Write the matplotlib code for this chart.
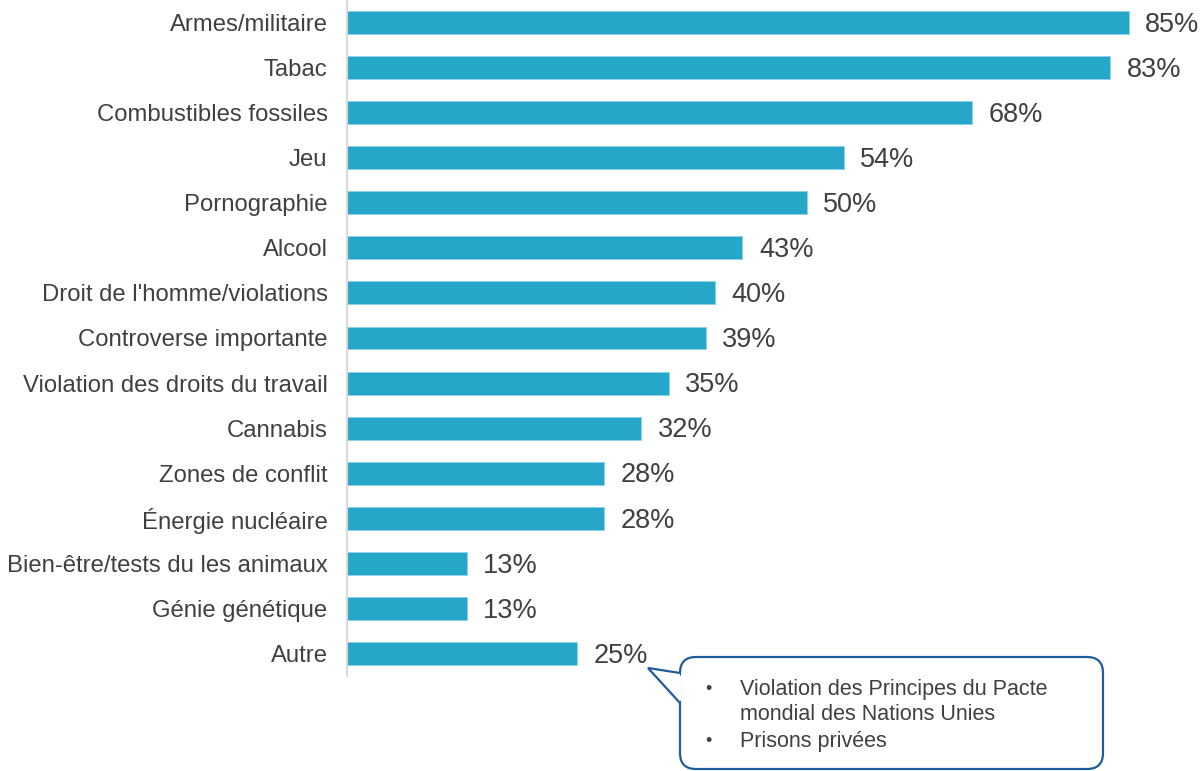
import matplotlib
matplotlib.use("Agg")
import matplotlib.pyplot as plt
import matplotlib.transforms as mtransforms
from matplotlib.patches import FancyBboxPatch, Polygon

plt.rcParams['font.family'] = ['Liberation Sans', 'DejaVu Sans']

categories = ["Armes/militaire", "Tabac", "Combustibles fossiles", "Jeu", "Pornographie",
              "Alcool", "Droit de l'homme/violations", "Controverse importante",
              "Violation des droits du travail", "Cannabis", "Zones de conflit",
              "Énergie nucléaire", "Bien-être/tests du les animaux", "Génie génétique", "Autre"]
values = [85, 83, 68, 54, 50, 43, 40, 39, 35, 32, 28, 28, 13, 13, 25]
callout_lines = ["Violation des Principes du Pacte", "mondial des Nations Unies", "Prisons privées"]

bar_color = "#26A7C9"
text_color = "#404040"

fig = plt.figure(figsize=(12.02, 7.71), dpi=100)
ax = fig.add_axes([347 / 1202, (771 - 676) / 771, 846 / 1202, 676 / 771])

y = list(range(len(categories)))
ax.barh(y, values, height=0.51, color=bar_color, edgecolor="#8fd3e6", linewidth=0.6)
for yi, v in zip(y, values):
    ax.text(v + 1.8, yi + 0.05, f"{v}%", va="center", ha="left", fontsize=19.5, color=text_color)

ax.set_yticks(y)
ax.set_yticklabels(categories, fontsize=17.2, color=text_color)
ax.set_ylim(len(categories) - 0.5, -0.5)
ax.set_xlim(0, 92)
ax.set_xticks([])
ax.tick_params(axis="y", length=0, pad=14)
for s in ["top", "right", "bottom"]:
    ax.spines[s].set_visible(False)
ax.spines["left"].set_color("#d9d9d9")
ax.spines["left"].set_linewidth(1.5)

# callout in pixel coords (top-down)
px = mtransforms.Affine2D().scale(1 / 1202, -1 / 771).translate(0, 1) + fig.transFigure
edge = "#1F5C99"
box = FancyBboxPatch((680, 657), 423, 112, boxstyle="round,pad=0,rounding_size=16",
                     transform=px, facecolor="white", edgecolor=edge, linewidth=1.6,
                     clip_on=False, zorder=5)
fig.patches.append(box)
tri = Polygon([(680, 673), (648, 668), (680, 703)], closed=False, transform=px,
              facecolor="white", edgecolor=edge, linewidth=1.6, clip_on=False, zorder=6)
fig.patches.append(tri)
cover = Polygon([(681.5, 674), (681.5, 702), (672, 690)], closed=True, transform=px,
                facecolor="white", edgecolor="none", clip_on=False, zorder=7)
fig.patches.append(cover)

for yy, txt, bullet in [(690, callout_lines[0], True), (714, callout_lines[1], False),
                        (741, callout_lines[2], True)]:
    if bullet:
        fig.text(705 / 1202, 1 - yy / 771, "•", transform=fig.transFigure, fontsize=13,
                 color=text_color, va="center", ha="left", zorder=8)
    fig.text(740 / 1202, 1 - yy / 771, txt, transform=fig.transFigure, fontsize=15.5,
             color=text_color, va="center", ha="left", zorder=8)

fig.savefig("out.png", dpi=100)
